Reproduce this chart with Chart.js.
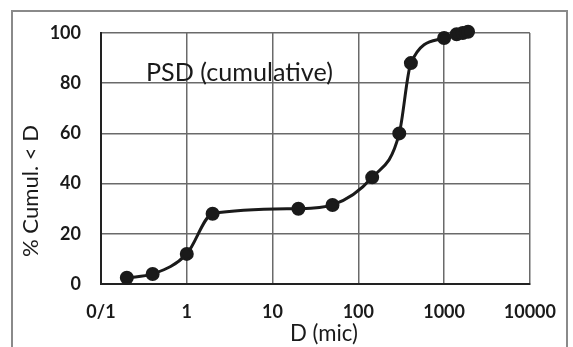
<!DOCTYPE html>
<html>
<head>
<meta charset="utf-8">
<script src="https://cdn.jsdelivr.net/npm/chart.js@4"></script>
<style>
  html, body { margin: 0; padding: 0; background: #fff; }
  #wrap { width: 573px; height: 347px; }
</style>
</head>
<body>
<div id="wrap"><canvas id="psdChart" width="573" height="347"></canvas></div>
<script>
// particle size (mic) and cumulative %
const sizes = [0.2, 0.4, 1, 2, 20, 50, 145, 300, 410, 1000, 1400, 1650, 1900];
const cumul = [2.5, 4, 12, 28, 30, 31.5, 42.5, 60, 88, 98, 99.5, 100, 100.5];

const xTicks = [0.1, 1, 10, 100, 1000, 10000];
const xTickLabels = ["0/1", "1", "10", "100", "1000", "10000"];
const yTicks = [0, 20, 40, 60, 80, 100];

const chartTitle = "PSD (cumulative)";
const xTitle = "D (mic)";
const yTitle = "% Cumul. < D";

const fontFamily = "Lato, 'Open Sans', sans-serif";
const ink = "#1a1a1a";
const gridColor = "#6a6a6a";

// scale a font so the text is as wide as in the reference
const fitFont = (ctx, text, width, weight) => {
  ctx.font = `${weight} 20px ${fontFamily}`;
  const size = 20 * width / ctx.measureText(text).width;
  return `${weight} ${size}px ${fontFamily}`;
};

// frame around the whole figure + the texts drawn by hand
const decorPlugin = {
  id: "decor",
  beforeDraw(chart) {
    const ctx = chart.ctx;
    ctx.save();
    ctx.strokeStyle = "#8a8a8a";
    ctx.lineWidth = 2;
    ctx.strokeRect(12, 11, 555, 360);
    ctx.restore();
  },
  afterDraw(chart) {
    const ctx = chart.ctx;
    const area = chart.chartArea;
    ctx.save();
    ctx.fillStyle = ink;
    ctx.font = fitFont(ctx, chartTitle, 187, "normal");
    ctx.textBaseline = "alphabetic";
    ctx.textAlign = "left";
    ctx.fillText(chartTitle, area.left + 45, area.top + 48);

    // x axis title
    ctx.font = fitFont(ctx, xTitle, 68, "normal");
    ctx.textAlign = "center";
    ctx.textBaseline = "middle";
    ctx.fillText(xTitle, 324, 334);

    // y axis title, sits a bit low like the original
    ctx.font = fitFont(ctx, yTitle, 132, "normal");
    ctx.translate(31, 191);
    ctx.rotate(-Math.PI / 2);
    ctx.fillText(yTitle, 0, 0);
    ctx.restore();
  }
};

const ctx = document.getElementById("psdChart");
new Chart(ctx, {
  type: "line",
  data: {
    datasets: [
      {
        label: "PSD",
        data: sizes.map((d, i) => ({ x: d, y: cumul[i] })),
        borderColor: ink,
        backgroundColor: ink,
        borderWidth: 3,
        pointRadius: 5.5,
        pointHoverRadius: 5.5,
        cubicInterpolationMode: "monotone",
        clip: false,
      },
    ],
  },
  options: {
    responsive: false,
    animation: false,
    layout: {
      padding: { left: 0, right: 38, top: 33, bottom: 0 },
    },
    plugins: {
      legend: { display: false },
      tooltip: { enabled: false },
    },
    scales: {
      x: {
        type: "logarithmic",
        min: 0.1,
        max: 10000,
        afterBuildTicks: (scale) => {
          scale.ticks = xTicks.map((v) => ({ value: v }));
        },
        afterFit: (scale) => {
          scale.height = 63;
        },
        ticks: {
          color: ink,
          padding: 17,
          maxRotation: 0,
          autoSkip: false,
          font: { family: fontFamily, size: 18, weight: "bold" },
          callback: (v) => {
            const i = xTicks.indexOf(v);
            return i >= 0 ? xTickLabels[i] : "";
          },
        },
        grid: { color: gridColor, lineWidth: 1.5, drawTicks: false },
        border: { color: "#222", width: 2 },
      },
      y: {
        min: 0,
        max: 100,
        afterBuildTicks: (scale) => {
          scale.ticks = yTicks.map((v) => ({ value: v }));
        },
        afterFit: (scale) => {
          scale.width = 101;
        },
        ticks: {
          color: ink,
          padding: 20,
          font: { family: fontFamily, size: 18, weight: "bold" },
        },
        grid: { color: gridColor, lineWidth: 1.5, drawTicks: false },
        border: { color: "#222", width: 2 },
      },
    },
  },
  plugins: [decorPlugin],
});
</script>
</body>
</html>
